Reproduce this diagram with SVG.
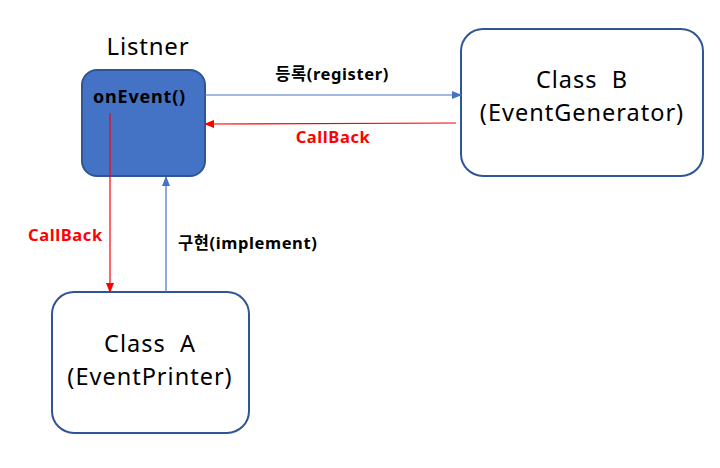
<svg xmlns="http://www.w3.org/2000/svg" width="720" height="468" viewBox="0 0 720 468">
<style>
text{font-family:"Noto Sans","Noto Sans CJK KR",sans-serif;fill:#000}
.cls{fill:#fff;stroke:#2f5597;stroke-width:2}
.big{font-size:23.5px;text-anchor:middle;letter-spacing:1px}
.lbl{font-size:16.5px;font-weight:bold;letter-spacing:0.6px}
.red{fill:#ff0000}
</style>
<defs>
<marker id="ab" markerWidth="10" markerHeight="8" refX="9" refY="4" orient="auto" markerUnits="userSpaceOnUse"><path d="M0,0L10,4L0,8z" fill="#4472c4"/></marker>
<marker id="ar" markerWidth="10" markerHeight="8" refX="9" refY="4" orient="auto" markerUnits="userSpaceOnUse"><path d="M0,0L10,4L0,8z" fill="#ff0000"/></marker>
</defs>
<rect width="720" height="468" fill="#fff"/>
<g id="listener">
<text x="148" y="55" font-size="24" letter-spacing="0.8" text-anchor="middle">Listner</text>
<rect x="82" y="70" width="123" height="106" rx="15" fill="#4472c4" stroke="#2f5597" stroke-width="2"/>
<text x="93" y="103" font-size="18" letter-spacing="0.8" font-weight="bold">onEvent()</text>
</g>
<g id="classB">
<rect class="cls" x="461" y="29" width="242" height="147" rx="22"/>
<text class="big" x="582" y="88">Class&#160; B</text>
<text class="big" x="582" y="121">(EventGenerator)</text>
</g>
<g id="classA">
<rect class="cls" x="52" y="292" width="197" height="141" rx="22"/>
<text class="big" x="150" y="352">Class&#160; A</text>
<text class="big" x="150" y="385">(EventPrinter)</text>
</g>
<g id="connectors">
<line x1="205" y1="95" x2="461" y2="95" stroke="#4472c4" stroke-width="1.2" marker-end="url(#ab)"/>
<line x1="456" y1="123" x2="205" y2="124" stroke="#ff0000" stroke-width="1.2" marker-end="url(#ar)"/>
<line x1="110" y1="113" x2="110" y2="292" stroke="#ff0000" stroke-width="1.2" marker-end="url(#ar)"/>
<line x1="166" y1="292" x2="166" y2="177" stroke="#4472c4" stroke-width="1.2" marker-end="url(#ab)"/>
<text class="lbl" x="332" y="80" text-anchor="middle">등록(register)</text>
<text class="lbl red" x="333" y="143" text-anchor="middle">CallBack</text>
<text class="lbl red" x="28" y="241">CallBack</text>
<text class="lbl" x="178" y="249">구현(implement)</text>
</g>
</svg>
